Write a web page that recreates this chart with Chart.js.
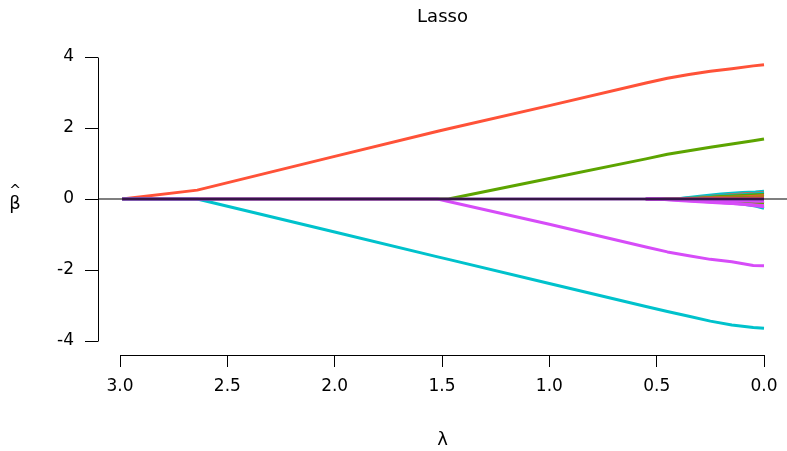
<!DOCTYPE html>
<html>
<head>
<meta charset="utf-8">
<title>Lasso</title>
<script src="https://cdn.jsdelivr.net/npm/chart.js@4"></script>
<style>
  html, body { margin: 0; padding: 0; background: #fff; }
  #wrap { width: 787px; height: 451px; }
</style>
</head>
<body>
<div id="wrap"><canvas id="lassoChart" width="787" height="451"></canvas></div>
<script>
// ---------- data ----------
const xTicks = [3.0, 2.5, 2.0, 1.5, 1.0, 0.5, 0.0];
const yTicks = [-4, -2, 0, 2, 4];

// lambda grid for the four big coefficients
const lambda = [2.99, 2.64, 2.0, 1.52, 1.47, 1.0, 0.55, 0.45, 0.35, 0.25, 0.15, 0.05, 0.0];
const betaRed    = [0, 0.25, 1.2, 1.91, 1.98, 2.63, 3.27, 3.4, 3.51, 3.6, 3.67, 3.75, 3.78];
const betaGreen  = [0, 0, 0, 0, 0, 0.58, 1.13, 1.26, 1.36, 1.46, 1.55, 1.64, 1.69];
const betaPurple = [0, 0, 0, 0, -0.07, -0.71, -1.35, -1.49, -1.6, -1.7, -1.77, -1.87, -1.88];
const betaCyan   = [0, 0, -0.93, -1.63, -1.7, -2.38, -3.03, -3.17, -3.3, -3.44, -3.55, -3.62, -3.64];
const betaZero   = [0, 0, 0, 0, 0, 0, 0, 0, 0, 0, 0, 0, 0];

// lambda grid for the small coefficients that enter late
const lambdaSmall = [0.55, 0.48, 0.40, 0.30, 0.20, 0.10, 0.04, 0.0];
const small01 = [0, 0, 0.01, 0.08, 0.14, 0.18, 0.20, 0.22];
const small02 = [0, 0, 0, 0.05, 0.10, 0.14, 0.16, 0.18];
const small03 = [0, 0, 0, 0.03, 0.07, 0.10, 0.12, 0.13];
const small04 = [0, 0, 0.01, 0.05, 0.09, 0.12, 0.15, 0.17];
const small05 = [0, 0, 0, 0.02, 0.04, 0.06, 0.08, 0.09];
const small06 = [0, 0, 0, 0.01, 0.03, 0.04, 0.05, 0.06];
const small07 = [0, -0.01, -0.04, -0.08, -0.11, -0.14, -0.17, -0.19];
const small08 = [0, -0.01, -0.03, -0.06, -0.10, -0.15, -0.19, -0.22];
const small09 = [0, 0, -0.01, -0.03, -0.05, -0.07, -0.09, -0.10];
const small10 = [0, 0, 0, -0.02, -0.04, -0.07, -0.10, -0.13];
const small11 = [0, 0, 0, -0.03, -0.08, -0.14, -0.20, -0.26];
const small12 = [0, 0, -0.01, -0.02, -0.04, -0.05, -0.06, -0.06];
const small13 = [0, 0, 0, 0.01, 0.02, 0.02, 0.03, 0.03];
const small14 = [0, 0, 0, 0.02, 0.05, 0.08, 0.10, 0.12];

// horizontal reference line (abline h = 0) across the whole plot region
const ablineX = [3.2, -0.2];
const ablineY = [0, 0];

// ---------- colours ----------
const RED = "#FF5238";
const GREEN = "#5CA400";
const CYAN = "#00C2CC";
const MAGENTA = "#D64CF8";
const DARKPURPLE = "#6A2C8E";

const FONT = "'DejaVu Sans', 'Liberation Sans', Arial, sans-serif";

function pts(xs, ys) {
    return xs.map((x, i) => ({ x: x, y: ys[i] }));
}

function pathSet(xs, ys, color, order) {
    return {
        data: pts(xs, ys),
        borderColor: color,
        borderWidth: 3,
        borderJoinStyle: "round",
        pointRadius: 0,
        tension: 0,
        fill: false,
        order: order
    };
}

const smallSeries = [
    [small07, MAGENTA], [small08, MAGENTA], [small12, MAGENTA],
    [small09, GREEN], [small10, RED], [small11, CYAN],
    [small13, RED], [small06, GREEN], [small05, RED],
    [small03, GREEN], [small04, CYAN], [small14, CYAN],
    [small02, RED], [small01, CYAN]
];

const datasets = [];
// abline on top of everything (lowest order drawn last)
datasets.push({
    data: pts(ablineX, ablineY),
    borderColor: "#000",
    borderWidth: 1.2,
    pointRadius: 0,
    fill: false,
    order: 0
});
datasets.push(pathSet(lambda, betaZero, DARKPURPLE, 1));
smallSeries.forEach((s, i) => datasets.push(pathSet(lambdaSmall, s[0], s[1], 2 + i)));
datasets.push(pathSet(lambda, betaPurple, MAGENTA, 20));
datasets.push(pathSet(lambda, betaCyan, CYAN, 21));
datasets.push(pathSet(lambda, betaGreen, GREEN, 22));
datasets.push(pathSet(lambda, betaRed, RED, 23));

// ---------- R-style axes: line only between first and last tick, hat-beta label ----------
const rAxes = {
    id: "rAxes",
    beforeDraw(chart) {
        const ctx = chart.ctx;
        ctx.save();
        ctx.fillStyle = "#fff";
        ctx.fillRect(0, 0, chart.width, chart.height);
        ctx.restore();
    },
    afterDraw(chart) {
        const ctx = chart.ctx;
        const xs = chart.scales.x;
        const ys = chart.scales.y;
        const area = chart.chartArea;
        ctx.save();
        ctx.strokeStyle = "#000";
        ctx.lineWidth = 1;
        ctx.beginPath();
        ctx.moveTo(Math.round(xs.getPixelForValue(xTicks[0])) + 0.5, Math.round(area.bottom) + 0.5);
        ctx.lineTo(Math.round(xs.getPixelForValue(xTicks[xTicks.length - 1])) + 0.5, Math.round(area.bottom) + 0.5);
        ctx.moveTo(Math.round(area.left) + 0.5, Math.round(ys.getPixelForValue(yTicks[0])) + 0.5);
        ctx.lineTo(Math.round(area.left) + 0.5, Math.round(ys.getPixelForValue(yTicks[yTicks.length - 1])) + 0.5);
        ctx.stroke();

        // y label: beta with a hat, upright
        const yMid = ys.getPixelForValue(0);
        ctx.fillStyle = "#000";
        ctx.textAlign = "center";
        ctx.textBaseline = "middle";
        ctx.font = "18px " + FONT;
        ctx.fillText("β", 15, yMid + 5);
        ctx.font = "14px " + FONT;
        ctx.fillText("^", 15, yMid - 8);
        ctx.restore();
    }
};

new Chart(document.getElementById("lassoChart"), {
    type: "line",
    data: { datasets: datasets },
    options: {
        responsive: false,
        animation: false,
        layout: { padding: 0 },
        plugins: {
            legend: { display: false },
            tooltip: { enabled: false },
            title: {
                display: true,
                text: "Lasso",
                fullSize: false,
                color: "#000",
                font: { family: FONT, size: 18, weight: "normal", lineHeight: 1.2 },
                padding: { top: 7, bottom: 23.4 }
            }
        },
        scales: {
            x: {
                type: "linear",
                reverse: true,
                min: -0.1071,
                max: 3.1025,
                afterBuildTicks: axis => { axis.ticks = xTicks.map(v => ({ value: v })); },
                afterFit: axis => { axis.height = 96; },
                border: { display: false },
                grid: {
                    drawOnChartArea: false,
                    drawTicks: true,
                    tickLength: 12,
                    color: "#000",
                    lineWidth: 1
                },
                ticks: {
                    color: "#000",
                    padding: 9,
                    maxRotation: 0,
                    autoSkip: false,
                    font: { family: FONT, size: 17 },
                    callback: v => Number(v).toFixed(1)
                },
                title: {
                    display: true,
                    text: "λ",
                    color: "#000",
                    font: { family: FONT, size: 18 },
                    padding: { top: 0, bottom: 0 }
                }
            },
            y: {
                type: "linear",
                min: -4.394,
                max: 4.141,
                afterBuildTicks: axis => { axis.ticks = yTicks.map(v => ({ value: v })); },
                afterFit: axis => { axis.width = 98; },
                border: { display: false },
                grid: {
                    drawOnChartArea: false,
                    drawTicks: true,
                    tickLength: 13,
                    color: "#000",
                    lineWidth: 1
                },
                ticks: {
                    color: "#000",
                    padding: 11,
                    autoSkip: false,
                    font: { family: FONT, size: 17 },
                    callback: v => String(v)
                }
            }
        }
    },
    plugins: [rAxes]
});
</script>
</body>
</html>
